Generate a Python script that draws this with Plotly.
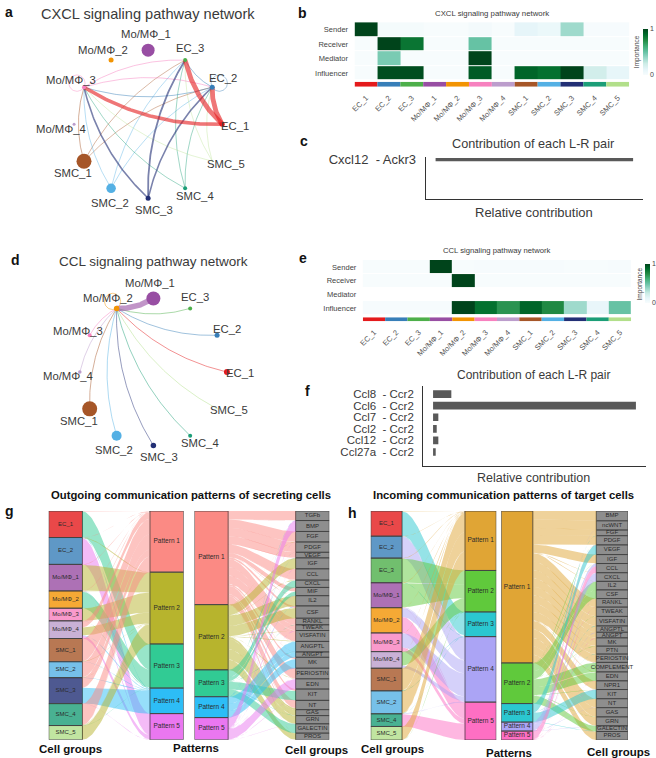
import numpy as np
import plotly.graph_objects as go

W, H = 656, 758
FONT = "Liberation Sans"
INK = "#3a3a3a"

# ---------- data ----------
CELLS = ["EC_1", "EC_2", "EC_3", "Mo/MΦ_1", "Mo/MΦ_2", "Mo/MΦ_3", "Mo/MΦ_4",
         "SMC_1", "SMC_2", "SMC_3", "SMC_4", "SMC_5"]
CELL_COLORS = ["#E41A1C", "#377EB8", "#4DAF4A", "#984EA3", "#F29403", "#F781BF",
               "#BC9DCC", "#A65628", "#54B0E4", "#222F75", "#1B9E77", "#B2DF8A"]
ROLES = ["Sender", "Receiver", "Mediator", "Influencer"]

CXCL_NODE_SIZE = [5, 5, 4, 13, 5, 4, 3, 15, 9.5, 5, 4, 1]
CCL_NODE_SIZE = [6, 5, 4, 14, 5.5, 4, 3.5, 15, 10, 5.5, 4, 1]
# source, target, strength
CXCL_EDGES = [
    (7, 5, 0.8), (7, 2, 0.7), (7, 1, 0.7), (8, 5, 0.7), (8, 2, 0.7), (8, 1, 0.7),
    (10, 5, 0.7), (10, 2, 0.7), (10, 1, 0.7), (11, 5, 0.6), (11, 2, 0.6), (11, 1, 0.6),
    (5, 2, 0.8), (5, 1, 0.8), (5, 5, 0.7), (1, 2, 0.8), (1, 5, 0.8), (1, 1, 0.7),
    (9, 5, 1.6), (9, 2, 1.8), (9, 1, 1.6), (0, 5, 3.6), (0, 2, 4.8), (0, 1, 4.8),
]
CCL_EDGES = [
    (0, 4, 0.8), (1, 4, 0.8), (2, 4, 0.8), (3, 4, 5.5), (4, 4, 0.8), (5, 4, 0.8), (6, 4, 0.8),
    (7, 4, 0.8), (8, 4, 0.8), (9, 4, 0.8), (10, 4, 0.8), (11, 4, 0.8),
]
CXCL_HEAT = [
    [1.00, 0.02, 0.02, 0.00, 0.00, 0.03, 0.00, 0.12, 0.08, 0.36, 0.01, 0.01],
    [0.00, 1.00, 0.84, 0.00, 0.00, 0.50, 0.00, 0.00, 0.00, 0.00, 0.00, 0.00],
    [0.00, 0.45, 0.00, 0.00, 0.00, 1.00, 0.00, 0.00, 0.00, 0.00, 0.00, 0.00],
    [0.00, 0.97, 0.97, 0.00, 0.00, 0.93, 0.00, 0.90, 0.86, 1.00, 0.22, 0.11],
]
CCL_HEAT = [
    [0.00, 0.00, 0.00, 1.00, 0.00, 0.01, 0.01, 0.01, 0.01, 0.00, 0.00, 0.01],
    [0.00, 0.00, 0.00, 0.00, 1.00, 0.00, 0.00, 0.00, 0.00, 0.00, 0.00, 0.00],
    [None] * 12,
    [0.01, 0.01, 0.01, 0.01, 1.00, 0.86, 0.72, 0.90, 0.76, 0.36, 0.10, 0.50],
]
CXCL_PAIRS = ["Cxcl12\u00a0\u00a0- Ackr3"]
CXCL_CONTRIB = [1.0]
CCL_PAIRS = ["Ccl8\u00a0\u00a0- Ccr2", "Ccl6\u00a0\u00a0- Ccr2", "Ccl7\u00a0\u00a0- Ccr2",
             "Ccl2\u00a0\u00a0- Ccr2", "Ccl12\u00a0\u00a0- Ccr2", "Ccl27a\u00a0\u00a0- Ccr2"]
CCL_CONTRIB = [0.09, 1.0, 0.026, 0.018, 0.026, 0.013]

PATTERNS = ["Pattern 1", "Pattern 2", "Pattern 3", "Pattern 4", "Pattern 5"]
OUT_PATTERN_COLORS = ["#FB8A84", "#B7B42D", "#31CB94", "#2DBDF6", "#EA77F0"]
IN_PATTERN_COLORS = ["#E0A535", "#60C93C", "#2BC7D0", "#ABA4F5", "#FE6FC3"]
SIGNAL_GREY = "#8E8E8E"

OUT_CELLS = ["EC_1", "EC_2", "Mo/MΦ_1", "Mo/MΦ_2", "Mo/MΦ_3", "Mo/MΦ_4", "SMC_1", "SMC_2", "SMC_3", "SMC_4", "SMC_5"]
OUT_CELL_SIZE = [80, 81, 80, 52, 38, 53, 70, 48, 78, 66, 43]
OUT_PAT_LEFT = [185, 217, 133, 77, 79]
OUT_PAT_RIGHT = [283, 197, 81, 63, 67]
OUT_SIGNALS = ["TGFb", "BMP", "FGF", "PDGF", "VEGF", "IGF", "CCL", "CXCL", "MIF", "IL2", "CSF", "RANKL", "TWEAK",
               "VISFATIN", "ANGPTL", "ANGPT", "MK", "PERIOSTIN", "EDN", "KIT", "NT", "GAS", "GRN", "GALECTIN", "PROS"]
OUT_SIGNAL_SIZE = [29, 33, 32, 31, 17, 33, 34, 22, 25, 31, 37, 20, 17, 33, 32, 16, 33, 32, 31, 34, 28, 18, 25, 28, 20]
OUT_CELL_TO_PAT = [
    [0.02, 0.00, 1.00, 0.02, 0.00],
    [0.01, 0.02, 0.00, 0.00, 1.00],
    [0.02, 1.00, 0.00, 0.01, 0.01],
    [0.02, 0.01, 0.70, 0.00, 0.00],
    [0.01, 1.00, 0.02, 0.00, 0.00],
    [0.45, 0.55, 0.00, 0.02, 0.20],
    [1.00, 0.02, 0.00, 0.01, 0.00],
    [1.00, 0.01, 0.00, 0.02, 0.00],
    [0.45, 0.00, 0.00, 0.70, 0.01],
    [1.00, 0.02, 0.01, 0.00, 0.00],
    [0.02, 1.00, 0.00, 0.00, 0.01],
]
OUT_SIGNAL_FROM_PAT = [
    [1.00, 0.00, 0.00, 0.00, 0.02], [0.02, 0.00, 0.00, 0.01, 1.00], [1.00, 0.02, 0.00, 0.00, 0.01],
    [1.00, 0.00, 0.01, 0.00, 0.00], [1.00, 0.00, 0.00, 0.02, 0.00], [0.02, 1.00, 0.00, 0.00, 0.01],
    [1.00, 0.02, 0.00, 0.00, 0.02], [0.01, 0.02, 1.00, 0.00, 0.00], [0.50, 0.00, 0.50, 0.00, 0.01],
    [0.02, 1.00, 0.00, 0.01, 0.00], [0.20, 1.00, 0.00, 0.00, 0.00], [1.00, 0.00, 0.02, 0.00, 0.00],
    [1.00, 0.01, 0.00, 0.00, 0.02], [1.00, 0.02, 0.00, 0.01, 0.00], [0.02, 0.00, 0.00, 1.00, 0.00],
    [0.01, 0.00, 0.02, 1.00, 0.00], [0.20, 0.00, 0.00, 1.00, 0.01], [1.00, 0.02, 0.00, 0.00, 0.01],
    [0.02, 0.00, 0.01, 0.00, 1.00], [0.20, 0.00, 1.00, 0.00, 0.01], [1.00, 0.20, 0.00, 0.00, 0.00],
    [0.02, 1.00, 0.01, 0.00, 0.00], [0.01, 1.00, 0.00, 0.00, 0.02], [0.00, 0.01, 1.00, 0.00, 0.00],
    [0.02, 1.00, 0.00, 0.00, 0.01],
]

IN_CELLS = ["EC_1", "EC_2", "EC_3", "Mo/MΦ_1", "Mo/MΦ_2", "Mo/MΦ_3", "Mo/MΦ_4", "SMC_1", "SMC_2", "SMC_4", "SMC_5"]
IN_CELL_SIZE = [76, 66, 74, 75, 76, 56, 50, 68, 69, 38, 41]
IN_PAT_LEFT = [179, 125, 74, 197, 114]
IN_PAT_RIGHT = [458, 122, 56, 27, 27]
IN_SIGNALS = ["BMP", "ncWNT", "FGF", "PDGF", "VEGF", "IGF", "CCL", "CXCL", "IL2", "CSF", "RANKL", "TWEAK", "VISFATIN",
              "ANGPTL", "ANGPT", "MK", "PTN", "PERIOSTIN", "COMPLEMENT", "EDN", "NPR1", "KIT", "NT", "GAS", "GRN",
              "GALECTIN", "PROS"]
IN_SIGNAL_SIZE = [30, 28, 17, 28, 29, 27, 28, 26, 26, 26, 26, 28, 29, 19, 17, 25, 24, 25, 29, 27, 26, 28, 27, 28, 27, 17, 26]
IN_CELL_TO_PAT = [
    [0.02, 0.00, 1.00, 0.02, 0.00],
    [0.01, 0.00, 0.02, 1.00, 0.00],
    [0.02, 1.00, 0.01, 0.00, 0.00],
    [0.02, 1.00, 0.00, 0.02, 0.01],
    [0.02, 0.00, 0.00, 0.55, 1.00],
    [0.01, 0.00, 0.00, 1.00, 0.30],
    [0.02, 1.00, 0.00, 0.20, 0.00],
    [1.00, 0.01, 0.02, 0.00, 0.00],
    [1.00, 0.00, 0.01, 0.02, 0.00],
    [0.02, 0.00, 0.00, 0.02, 1.00],
    [1.00, 0.02, 0.00, 0.00, 0.01],
]
IN_SIGNAL_FROM_PAT = [
    [1.00, 0.00, 0.00, 0.00, 0.00], [1.00, 0.00, 0.00, 0.02, 0.00], [1.00, 0.00, 0.01, 0.00, 0.00],
    [1.00, 0.00, 0.00, 0.00, 0.02], [0.00, 0.01, 1.00, 0.00, 0.00], [1.00, 0.02, 0.00, 0.00, 0.00],
    [0.00, 0.00, 0.00, 0.40, 1.00], [0.02, 0.00, 0.00, 1.00, 0.00], [0.02, 1.00, 0.00, 0.00, 0.00],
    [0.00, 1.00, 0.00, 0.01, 0.00], [1.00, 0.00, 0.00, 0.00, 0.02], [1.00, 0.02, 0.00, 0.00, 0.00],
    [1.00, 0.00, 0.01, 0.00, 0.00], [1.00, 0.00, 0.00, 0.01, 0.00], [1.00, 0.00, 0.00, 0.00, 0.01],
    [1.00, 0.01, 0.00, 0.00, 0.00], [1.00, 0.00, 0.02, 0.00, 0.00], [1.00, 0.00, 0.00, 0.02, 0.00],
    [0.05, 1.00, 0.00, 0.00, 0.00], [0.05, 1.00, 0.00, 0.00, 0.01], [1.00, 0.00, 0.00, 0.00, 0.02],
    [0.00, 0.02, 1.00, 0.00, 0.00], [1.00, 0.00, 0.00, 0.01, 0.00], [1.00, 0.01, 0.00, 0.00, 0.00],
    [1.00, 0.00, 0.00, 0.02, 0.00], [0.00, 1.00, 0.02, 0.00, 0.00], [1.00, 0.00, 0.00, 0.00, 0.01],
]

BUGN = ["#F7FCFD", "#E5F5F9", "#CCECE6", "#99D8C9", "#66C2A4", "#41AE76", "#238B45", "#006D2C", "#00441B"]
COLORSCALE = [[i / 8, c] for i, c in enumerate(BUGN)]

# label placement around the network nodes (pixels from the node)
CXCL_LABEL_DX = [13, 11, 5, -2, -8, -13, -13, -11, -1, 6, 10, 14]
CXCL_LABEL_DY = [2, -9, -12, -16, -10, -7, 5, 12, 15, 12, 8, 3]
CCL_LABEL_DX = [13, 10, 5, -3, -9, -12, -12, -11, -3, 6, 10, 12]
CCL_LABEL_DY = [1, -6, -11, -16, -10, -4, 4, 12, 14, 11, 7, 1]


# ---------- helpers ----------
def rgba(hex_color, a):
    h = hex_color.lstrip("#")
    return f"rgba({int(h[0:2],16)},{int(h[2:4],16)},{int(h[4:6],16)},{a})"


fig = go.Figure()
layout = {}
annotations = []
axis_count = 0


def new_axes(x0, x1, y0, y1, xopts=None, yopts=None):
    """Create an axis pair occupying a pixel rectangle of the page."""
    global axis_count
    axis_count += 1
    n = axis_count
    base = dict(showgrid=False, zeroline=False, showticklabels=False, ticks="", showline=False, fixedrange=True)
    xa = dict(base, domain=[x0 / W, x1 / W], anchor=f"y{n}")
    ya = dict(base, domain=[1 - y1 / H, 1 - y0 / H], anchor=f"x{n}")
    xa.update(xopts or {})
    ya.update(yopts or {})
    layout[f"xaxis{n}"] = xa
    layout[f"yaxis{n}"] = ya
    return f"x{n}", f"y{n}"


def text(px, py, s, size, color=INK, bold=False, angle=0, xanchor="center"):
    annotations.append(dict(xref="paper", yref="paper", x=px / W, y=1 - py / H, text=f"<b>{s}</b>" if bold else s,
                            showarrow=False, xanchor=xanchor, yanchor="middle", textangle=angle,
                            font=dict(family=FONT, size=size, color=color)))


def network(cx, cy, r, edges, node_size, dx, dy, rect):
    x0, x1, y0, y1 = rect
    xa, ya = new_axes(x0, x1, y0, y1,
                      dict(range=[(x0 - cx) / r, (x1 - cx) / r]),
                      dict(range=[(cy - y1) / r, (cy - y0) / r]))
    theta = 2 * np.pi * np.arange(len(CELLS)) / len(CELLS)
    nx, ny = np.cos(theta), np.sin(theta)
    t = np.linspace(0, 1, 60)
    for s, e, w in edges:
        if s == e:
            phi = np.linspace(0, 2 * np.pi, 60)
            loop_r = 0.11
            ox, oy = nx[s] * (1 + loop_r), ny[s] * (1 + loop_r)
            ex, ey = ox + loop_r * np.cos(phi), oy + loop_r * np.sin(phi)
        else:
            mx, my = (nx[s] + nx[e]) / 2, (ny[s] + ny[e]) / 2
            ddx, ddy = nx[e] - nx[s], ny[e] - ny[s]
            c = 0.15
            px, py = mx - c * ddy, my + c * ddx
            ex = (1 - t) ** 2 * nx[s] + 2 * t * (1 - t) * px + t ** 2 * nx[e]
            ey = (1 - t) ** 2 * ny[s] + 2 * t * (1 - t) * py + t ** 2 * ny[e]
        fig.add_trace(go.Scatter(x=ex, y=ey, mode="lines", xaxis=xa, yaxis=ya, hoverinfo="skip",
                                 line=dict(color=rgba(CELL_COLORS[s], 0.6), width=w)))
    fig.add_trace(go.Scatter(x=nx, y=ny, mode="markers", xaxis=xa, yaxis=ya, cliponaxis=False, text=CELLS,
                             marker=dict(size=node_size, color=CELL_COLORS, opacity=1, line=dict(width=0))))
    for i, name in enumerate(CELLS):
        annotations.append(dict(xref=xa, yref=ya, x=nx[i], y=ny[i], xshift=dx[i], yshift=-dy[i], text=name,
                                showarrow=False, font=dict(family=FONT, size=11.3, color=INK)))


def heatmap(z, rect, strip_rect, cbar_rect):
    x0, x1, y0, y1 = rect
    xa, ya = new_axes(x0, x1, y0, y1,
                      dict(type="category", categoryarray=CELLS, range=[-0.5, 11.5]),
                      dict(type="category", categoryarray=ROLES, range=[3.5, -0.5], showticklabels=True,
                           ticks="outside", ticklen=4, tickcolor="rgba(0,0,0,0)",
                           tickmode="array", tickvals=ROLES, ticktext=ROLES,
                           tickfont=dict(family=FONT, size=7.5, color="#444")))
    bx0, bx1, by0, by1 = cbar_rect
    fig.add_trace(go.Heatmap(z=z, x=CELLS, y=ROLES, xaxis=xa, yaxis=ya, colorscale=COLORSCALE, zmin=0, zmax=1,
                             ygap=1, hoverongaps=False,
                             colorbar=dict(x=bx0 / W, xanchor="left", y=1 - by1 / H, yanchor="bottom",
                                           len=(by1 - by0) / H, lenmode="fraction",
                                           thickness=bx1 - bx0, thicknessmode="pixels", outlinewidth=0,
                                           xpad=0, ypad=0, tickvals=[0, 1], ticks="",
                                           tickfont=dict(family=FONT, size=7, color="#444"))))
    text(bx0 - 5, (by0 + by1) / 2, "Importance", 6.5, "#444", angle=-90)
    sx0, sx1, sy0, sy1 = strip_rect
    xb, yb = new_axes(sx0, sx1, sy0, sy1,
                      dict(type="category", categoryarray=CELLS, range=[-0.5, 11.5], showticklabels=True,
                           tickangle=-45, ticks="outside", ticklen=3, tickcolor="rgba(0,0,0,0)",
                           tickmode="array", tickvals=CELLS, ticktext=CELLS,
                           tickfont=dict(family=FONT, size=7.5, color="#555")),
                      dict(range=[0, 1]))
    fig.add_trace(go.Bar(x=CELLS, y=[1] * 12, width=1, xaxis=xb, yaxis=yb, marker=dict(color=CELL_COLORS, line=dict(width=0))))


def contribution(pairs, values, rect, xr, yr, width, font_size):
    x0, x1, y0, y1 = rect
    line = dict(showline=True, linecolor="#333", linewidth=1)
    xa, ya = new_axes(x0, x1, y0, y1, dict(line, range=xr),
                      dict(line, type="category", categoryarray=pairs, range=yr, showticklabels=True,
                           ticks="outside", ticklen=6, tickcolor="rgba(0,0,0,0)",
                           tickmode="array", tickvals=pairs, ticktext=pairs,
                           tickfont=dict(family=FONT, size=font_size, color=INK)))
    fig.add_trace(go.Bar(x=values, y=pairs, orientation="h", width=width, xaxis=xa, yaxis=ya,
                         marker=dict(color="#595959", line=dict(width=0))))


def stack(sizes, total):
    v = np.asarray(sizes, float) * total / np.sum(sizes)
    return np.concatenate([[0], np.cumsum(v)[:-1]]), v


def column(xa, ya, pos, sizes, colors, names, total, font_size):
    start, h = stack(sizes, total)
    fig.add_trace(go.Bar(x=[pos] * len(h), y=h, base=start, width=1, xaxis=xa, yaxis=ya,
                         marker=dict(color=colors, line=dict(color="#444", width=1))))
    fig.add_trace(go.Scatter(x=[pos] * len(h), y=start + h / 2, mode="text", text=names, xaxis=xa, yaxis=ya,
                             cliponaxis=False, hoverinfo="skip",
                             textfont=dict(family=FONT, size=font_size, color="#2b2b2b")))
    return start, h


def alluvial(rect, left, right, flows, ribbon_of, total=691):
    """left/right = (sizes, colors, names, font size). flows[i][j] links left i to right j."""
    x0, x1, y0, y1 = rect
    xa, ya = new_axes(x0, x1, y0, y1, dict(range=[-0.5, 3.5]), dict(range=[total, 0]))
    flows = np.asarray(flows, float)
    ls, lh = stack(left[0], total)
    rs, rh = stack(right[0], total)
    lw = flows / flows.sum(axis=1, keepdims=True) * lh[:, None]
    rw = flows / flows.sum(axis=0, keepdims=True) * rh[None, :]
    lo = ls + np.zeros(len(ls))
    ro = rs + np.zeros(len(rs))
    t = np.linspace(0, 1, 50)
    curve = 3 * t ** 2 - 2 * t ** 3
    xs = 0.5 + 2 * t
    segments = []
    for i in range(flows.shape[0]):
        for j in range(flows.shape[1]):
            if flows[i, j] > 0:
                segments.append((i, j, lo[i], lo[i] + lw[i, j], ro[j], ro[j] + rw[i, j]))
                lo[i] += lw[i, j]
                ro[j] += rw[i, j]
    for i, j, a0, a1, b0, b1 in segments:
        top = a0 + (b0 - a0) * curve
        bot = a1 + (b1 - a1) * curve
        fig.add_trace(go.Scatter(x=np.r_[xs, xs[::-1]], y=np.r_[top, bot[::-1]], mode="lines", fill="toself",
                                 xaxis=xa, yaxis=ya, hoverinfo="skip", line=dict(width=0),
                                 fillcolor=rgba(ribbon_of(i, j), 0.5)))
    column(xa, ya, 0, left[0], left[1], left[2], total, left[3])
    column(xa, ya, 3, right[0], right[1], right[2], total, right[3])


# ---------- panels ----------
network(145, 120, 74.5, CXCL_EDGES, CXCL_NODE_SIZE, CXCL_LABEL_DX, CXCL_LABEL_DY, (0, 280, 18, 225))
network(150.3, 369.5, 74, CCL_EDGES, CCL_NODE_SIZE, CCL_LABEL_DX, CCL_LABEL_DY, (0, 285, 268, 480))

heatmap(CXCL_HEAT, (352.7, 629, 17.3, 76), (352.7, 629, 77.3, 82.3), (642.7, 648, 23.3, 70))
heatmap(CCL_HEAT, (361, 631, 256.7, 312.3), (361, 631, 314.3, 318.3), (644.7, 650, 261, 300))

contribution(CXCL_PAIRS, CXCL_CONTRIB, (424.3, 642.7, 153.3, 195.7), [-0.05, 1.049], [-1, 0.06], 0.08, 13)
contribution(CCL_PAIRS, CCL_CONTRIB, (421.7, 646, 384, 464.3), [-0.049, 1.05], [6.23, -0.657], 0.66, 11.5)

cell_color = {n: rgba(c, 0.8) for n, c in zip(CELLS, CELL_COLORS)}
alluvial((45, 180.7, 509.3, 739.7),
         (OUT_CELL_SIZE, [cell_color[n] for n in OUT_CELLS], OUT_CELLS, 6),
         (OUT_PAT_LEFT, OUT_PATTERN_COLORS, PATTERNS, 6.5),
         OUT_CELL_TO_PAT, lambda i, j: OUT_PATTERN_COLORS[j])
alluvial((191.7, 327.3, 509.3, 739.7),
         (OUT_PAT_RIGHT, OUT_PATTERN_COLORS, PATTERNS, 6.5),
         (OUT_SIGNAL_SIZE, [SIGNAL_GREY] * 25, OUT_SIGNALS, 6),
         np.array(OUT_SIGNAL_FROM_PAT).T, lambda i, j: OUT_PATTERN_COLORS[i])
alluvial((369, 495.3, 509.3, 740),
         (IN_CELL_SIZE, [cell_color[n] for n in IN_CELLS], IN_CELLS, 6),
         (IN_PAT_LEFT, IN_PATTERN_COLORS, PATTERNS, 6.5),
         IN_CELL_TO_PAT, lambda i, j: IN_PATTERN_COLORS[j])
alluvial((500.3, 627.7, 509.3, 740),
         (IN_PAT_RIGHT, IN_PATTERN_COLORS, PATTERNS, 6.5),
         (IN_SIGNAL_SIZE, [SIGNAL_GREY] * 27, IN_SIGNALS, 6),
         np.array(IN_SIGNAL_FROM_PAT).T, lambda i, j: IN_PATTERN_COLORS[i])

# ---------- titles and labels ----------
for letter, px, py in [("a", 5, 7), ("b", 300.7, 8), ("c", 302, 137), ("d", 12, 257), ("e", 300.7, 255),
                       ("f", 305, 389), ("g", 6, 509), ("h", 351, 511)]:
    text(px, py, letter, 14, "#111", bold=True)

text(145, 9, "CXCL signaling pathway network", 14.6)
text(150, 258, "CCL signaling pathway network", 13.5)
text(490.7, 9, "CXCL signaling pathway network", 7.8)
text(495.7, 247, "CCL signaling pathway network", 7.7)
text(533, 140, "Contribution of each L-R pair", 12.7)
text(533, 209, "Relative contribution", 13)
text(533, 372.7, "Contribution of each L-R pair", 12)
text(533, 476, "Relative contribution", 12.5)
text(188, 493, "Outgoing communication patterns of secreting cells", 11.3, "#111", bold=True)
text(502.7, 493, "Incoming communication patterns of target cells", 11.3, "#111", bold=True)
text(66.7, 748.7, "Cell groups", 11.5, "#111", bold=True)
text(193.3, 748, "Patterns", 11.5, "#111", bold=True)
text(314, 750, "Cell groups", 11.5, "#111", bold=True)
text(390.7, 749, "Cell groups", 11.5, "#111", bold=True)
text(507.7, 752.7, "Patterns", 11.5, "#111", bold=True)
text(618.7, 752, "Cell groups", 11.5, "#111", bold=True)

fig.update_layout(width=W, height=H, margin=dict(l=0, r=0, t=0, b=0), paper_bgcolor="white", plot_bgcolor="rgba(0,0,0,0)",
                  showlegend=False, barmode="overlay", annotations=annotations, font=dict(family=FONT), **layout)
fig.write_html("out.html", post_script="document.body.style.margin='0';document.body.style.overflow='hidden';",
               config=dict(displayModeBar=False))
